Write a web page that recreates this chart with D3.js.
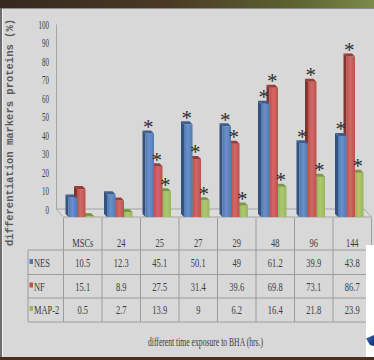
<!DOCTYPE html>
<html>
<head>
<meta charset="utf-8">
<script src="https://cdn.jsdelivr.net/npm/d3@7"></script>
<style>
  html, body { margin: 0; padding: 0; background: #d8d8d8; overflow: hidden; }
  svg { display: block; }
</style>
</head>
<body>
<svg id="chart" width="374" height="360"></svg>
<script>
// Exposure times (columns) and marker percentages per series
const categories = ["MSCs", "24", "25", "27", "29", "48", "96", "144"];
const seriesNames = ["NES", "NF", "MAP-2"];
const nesValues  = [10.5, 12.3, 45.1, 50.1, 49, 61.2, 39.9, 43.8];
const nfValues   = [15.1, 8.9, 27.5, 31.4, 39.6, 69.8, 73.1, 86.7];
const map2Values = [0.5, 2.7, 13.9, 9, 6.2, 16.4, 21.8, 23.9];
// significance marks (*) above each bar
const nesStars  = [false, false, true, true, true, true, true, true];
const nfStars   = [false, false, true, true, true, true, true, true];
const map2Stars = [false, false, true, true, true, true, true, true];
const yTickValues = [0, 10, 20, 30, 40, 50, 60, 70, 80, 90, 100];
const yAxisTitle = "differentiation markers proteins (%)";
const xAxisTitle = "different time exposure to BHA (hrs.)";

const seriesValues = [nesValues, nfValues, map2Values];
const seriesStars = [nesStars, nfStars, map2Stars];
const palette = {
  "NES":   { front: "#5079b4", light: "#6a92c8", side: "#34527e", top: "#3d5f90" },
  "NF":    { front: "#bd504d", light: "#cf6a66", side: "#853330", top: "#9a3c39" },
  "MAP-2": { front: "#98b75a", light: "#aec872", side: "#6c8638", top: "#7b9844" }
};

const svg = d3.select("#chart");
const serif = "'Liberation Serif', 'Times New Roman', serif";
const textColor = "#3c3c3c";
const lineColor = "#9c9c9c";

// ---- frame: dark photo strip on top, thin borders ----
const defs = svg.append("defs");
const strip = defs.append("linearGradient").attr("id", "strip").attr("x1", 0).attr("x2", 1);
strip.append("stop").attr("offset", "0%").attr("stop-color", "#35281e");
strip.append("stop").attr("offset", "45%").attr("stop-color", "#4a3a24");
strip.append("stop").attr("offset", "80%").attr("stop-color", "#5d6530");
strip.append("stop").attr("offset", "100%").attr("stop-color", "#7d8a4a");

svg.append("rect").attr("x", 0).attr("y", 0).attr("width", 374).attr("height", 360).attr("fill", "#d8d8d8");
svg.append("rect").attr("x", 0).attr("y", 0).attr("width", 374).attr("height", 8).attr("fill", "url(#strip)");
svg.append("line").attr("x1", 0).attr("x2", 374).attr("y1", 8.5).attr("y2", 8.5).attr("stroke", "#8e8e8e");
svg.append("rect").attr("x", 0).attr("y", 8).attr("width", 2).attr("height", 352).attr("fill", "#6e6e6e");
svg.append("line").attr("x1", 2.5).attr("x2", 2.5).attr("y1", 9).attr("y2", 357).attr("stroke", "#efefef");
svg.append("rect").attr("x", 0).attr("y", 357).attr("width", 374).attr("height", 3).attr("fill", "#4a2c22");

// ---- scales ----
const x = d3.scaleBand().domain(categories).range([63.5, 371.5]);
const inner = d3.scaleBand().domain(seriesNames).range([5, 30.5]);
const yWall = d3.scaleLinear().domain([0, 100]).range([209, 24]);
const floorDx = 7.5, floorDy = 8;        // back wall -> front offset of the 3D floor
const yBar = v => yWall(v) + floorDy;
const depth = 3;                          // visible bar depth

// ---- y axis on the back wall ----
const axisG = svg.append("g").attr("transform", "translate(56,0)")
  .call(d3.axisLeft(yWall).tickValues(yTickValues).tickSize(0).tickPadding(7));
axisG.select(".domain").attr("stroke", "#a6a6a6");
const tickScale = 0.56;
axisG.selectAll(".tick text")
  .attr("font-family", serif).attr("font-size", 12.5).attr("fill", textColor)
  .attr("x", -7 / tickScale).attr("transform", `scale(${tickScale},1)`);

svg.append("text")
  .attr("transform", "translate(13,132.5) rotate(-90)")
  .attr("text-anchor", "middle")
  .attr("font-family", "'Liberation Mono', 'Courier New', monospace")
  .attr("font-size", 10.5).attr("font-weight", "bold").attr("fill", "#5a5a5a")
  .attr("textLength", 227).attr("lengthAdjust", "spacingAndGlyphs")
  .text(yAxisTitle);

// ---- floor ----
const x0 = 56, x1 = 364;
svg.append("polygon")
  .attr("points", [[x0, yWall(0)], [x1, yWall(0)], [x1 + floorDx, yBar(0)], [x0 + floorDx, yBar(0)]].join(" "))
  .attr("fill", "#dcdcdc").attr("stroke", "#a4a4a4").attr("stroke-width", 1);

// ---- bars ----
seriesNames.forEach(s => {
  const c = palette[s];
  const g = defs.append("linearGradient").attr("id", "grad-" + s.replace(/[^A-Za-z0-9]/g, "")).attr("x1", 0).attr("x2", 1);
  g.append("stop").attr("offset", "0%").attr("stop-color", c.front);
  g.append("stop").attr("offset", "45%").attr("stop-color", c.light);
  g.append("stop").attr("offset", "100%").attr("stop-color", c.front);
});

const barsG = svg.append("g");
categories.forEach((cat, ci) => {
  const group = barsG.append("g");
  // draw right to left so the nearer (left) bar covers its neighbour's side
  [2, 1, 0].forEach(si => {
    const s = seriesNames[si];
    const c = palette[s];
    const v = seriesValues[si][ci];
    const bx = x(cat) + inner(s), bw = inner.bandwidth();
    const top = yBar(v), base = yBar(0);
    group.append("polygon")
      .attr("points", [[bx, top], [bx - depth, top - depth], [bx - depth, base - depth], [bx, base]].join(" "))
      .attr("fill", c.side);
    group.append("rect")
      .attr("x", bx).attr("y", top).attr("width", bw).attr("height", base - top)
      .attr("fill", "url(#grad-" + s.replace(/[^A-Za-z0-9]/g, "") + ")");
    group.append("polygon")
      .attr("points", [[bx, top], [bx - depth, top - depth], [bx + bw - depth, top - depth], [bx + bw, top]].join(" "))
      .attr("fill", c.top);
  });
  seriesNames.forEach((s, si) => {
    if (!seriesStars[si][ci]) return;
    const v = seriesValues[si][ci];
    const bx = x(cat) + inner(s), bw = inner.bandwidth();
    group.append("text")
      .attr("x", bx + bw / 2 - 1.5).attr("y", yBar(v) + 0.5)
      .attr("text-anchor", "middle")
      .attr("font-family", serif).attr("font-size", 21).attr("fill", "#2e2e2e")
      .text("*");
  });
});

// ---- data table ----
const tableG = svg.append("g");
const rowLines = [250, 274.5, 298, 322];
const tableLeft = 28, tableRight = 371.5;
rowLines.forEach(yy => {
  tableG.append("line").attr("x1", tableLeft).attr("x2", tableRight).attr("y1", yy).attr("y2", yy)
    .attr("stroke", lineColor);
});
// column separators
categories.forEach(cat => {
  tableG.append("line").attr("x1", x(cat)).attr("x2", x(cat)).attr("y1", 218).attr("y2", 322).attr("stroke", lineColor);
});
tableG.append("line").attr("x1", tableRight).attr("x2", tableRight).attr("y1", 218).attr("y2", 322).attr("stroke", lineColor);
tableG.append("line").attr("x1", tableLeft).attr("x2", tableLeft).attr("y1", 250).attr("y2", 322).attr("stroke", lineColor);

const cellScale = 0.65;
function cellText(txt, cx, baseline, anchor) {
  tableG.append("text")
    .attr("transform", `translate(${cx},${baseline}) scale(${cellScale},1)`)
    .attr("text-anchor", anchor || "middle")
    .attr("font-family", serif).attr("font-size", 13).attr("fill", textColor)
    .text(txt);
}
categories.forEach(cat => cellText(cat, x(cat) + x.bandwidth() / 2, 246.5));
const rowBaselines = [267, 290.5, 314];
seriesNames.forEach((s, si) => {
  const rb = rowBaselines[si];
  tableG.append("rect").attr("x", 29.5).attr("y", rb - 8).attr("width", 3.5).attr("height", 5)
    .attr("fill", palette[s].front);
  cellText(s, 34, rb, "start");
  categories.forEach((cat, ci) => cellText(String(seriesValues[si][ci]), x(cat) + x.bandwidth() / 2, rb));
});

svg.append("text")
  .attr("x", 148).attr("y", 346)
  .attr("font-family", serif).attr("font-size", 12.5).attr("fill", textColor)
  .attr("textLength", 115).attr("lengthAdjust", "spacingAndGlyphs")
  .text(xAxisTitle);

// ---- white panel and arrow at the lower right edge ----
svg.append("rect").attr("x", 366).attr("y", 245).attr("width", 8).attr("height", 112).attr("fill", "#ffffff");
const arrowGrad = defs.append("linearGradient").attr("id", "arrow").attr("x1", 0).attr("y1", 0).attr("x2", 1).attr("y2", 1);
arrowGrad.append("stop").attr("offset", "0%").attr("stop-color", "#3a6fc0");
arrowGrad.append("stop").attr("offset", "100%").attr("stop-color", "#0e2a6a");
svg.append("polygon").attr("points", "366,338.5 374,335 374,346 370,345").attr("fill", "url(#arrow)");
</script>
</body>
</html>
